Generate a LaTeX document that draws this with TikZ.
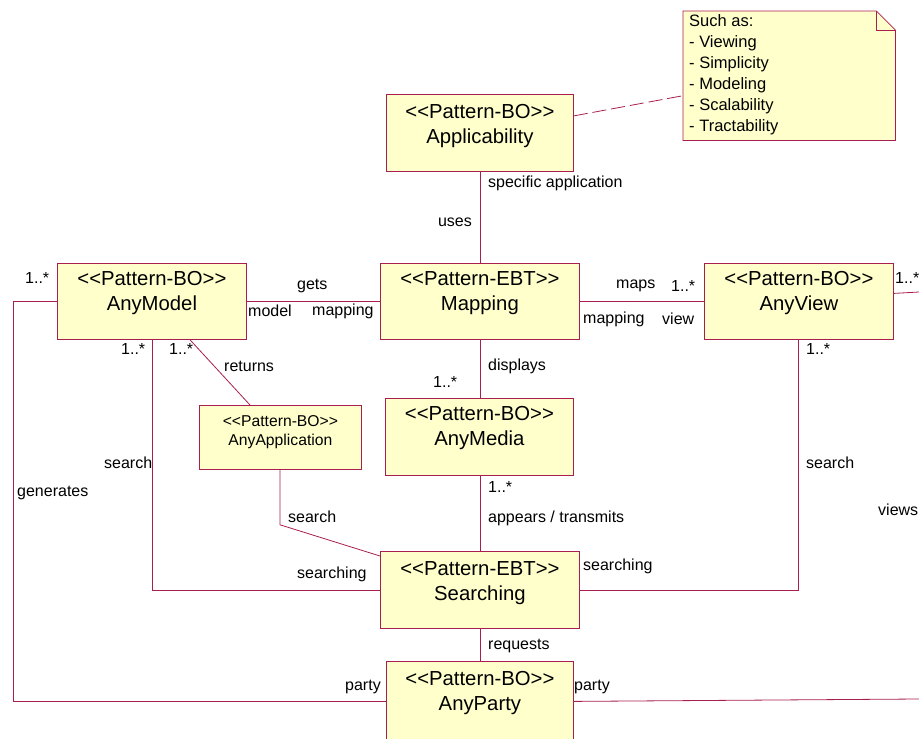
\documentclass[tikz,border=0pt]{standalone}
\usepackage{fontspec}
\setmainfont{Liberation Sans}
\definecolor{boxline}{RGB}{168,30,78}
\definecolor{boxfill}{RGB}{255,255,204}
\tikzset{
  umlbox/.style={draw=boxline, fill=boxfill, line width=0.8pt, inner sep=0pt, anchor=north west},
  boxtxt/.style={align=center, inner sep=0pt, font=\fontsize{20.3}{25}\selectfont},
  smalltxt/.style={align=center, inner sep=0pt, font=\fontsize{15.7}{19}\selectfont},
  lbl/.style={inner sep=0pt, anchor=west, font=\fontsize{16}{19}\selectfont},
  conn/.style={draw=boxline, line width=0.8pt},
  notelink/.style={draw=boxline, line width=0.8pt, dash pattern=on 14pt off 5pt}
}
\begin{document}
\begin{tikzpicture}[x=1pt,y=-1pt]
\useasboundingbox (0,0) rectangle (919,739);

% note
\node[minimum width=212pt, minimum height=129pt, inner sep=0pt, anchor=north west] (note) at (683,11) {};
\draw[draw=boxline, fill=boxfill, line width=0.8pt] (note.north west) -- ([xshift=-19pt]note.north east) -- ([yshift=-19pt]note.north east) -- (note.south east) -- (note.south west) -- cycle;
\draw[draw=boxline, line width=0.8pt] ([xshift=-19pt]note.north east) -- ([xshift=-19pt,yshift=-19pt]note.north east) -- ([yshift=-19pt]note.north east);
\node[anchor=north west, inner sep=0pt, align=left, font=\fontsize{16.5}{21}\selectfont] (notetxt) at ([xshift=6pt,yshift=-3pt]note.north west)
  {Such as:\\- Viewing\\- Simplicity\\- Modeling\\- Scalability\\- Tractability};

% boxes
\node[umlbox, minimum width=187pt, minimum height=77pt] (appl) at (386,94) {};
\node[umlbox, minimum width=199pt, minimum height=76pt] (mapping) at (380,263) {};
\node[umlbox, minimum width=189pt, minimum height=76pt] (model) at (57,263) {};
\node[umlbox, minimum width=189pt, minimum height=76pt] (view) at (704,263) {};
\node[umlbox, minimum width=188pt, minimum height=77pt] (media) at (385,398) {};
\node[umlbox, minimum width=162pt, minimum height=64pt] (app) at (199,405) {};
\node[umlbox, minimum width=199pt, minimum height=77pt] (search) at (380,551) {};
\node[umlbox, minimum width=187pt, minimum height=80pt] (party) at (386,661) {};

\node[boxtxt] (applT) at ([yshift=-32pt]appl.north) {<{}<Pattern-BO>{}>\\Applicability};
\node[boxtxt] (mappingT) at ([yshift=-30pt]mapping.north) {<{}<Pattern-EBT>{}>\\Mapping};
\node[boxtxt] (modelT) at ([yshift=-30pt]model.north) {<{}<Pattern-BO>{}>\\AnyModel};
\node[boxtxt] (viewT) at ([yshift=-30pt]view.north) {<{}<Pattern-BO>{}>\\AnyView};
\node[boxtxt] (mediaT) at ([yshift=-30pt]media.north) {<{}<Pattern-BO>{}>\\AnyMedia};
\node[smalltxt] (appT) at ([yshift=-27pt]app.north) {<{}<Pattern-BO>{}>\\AnyApplication};
\node[boxtxt] (searchT) at ([yshift=-32pt]search.north) {<{}<Pattern-EBT>{}>\\Searching};
\node[boxtxt] (partyT) at ([yshift=-32pt]party.north) {<{}<Pattern-BO>{}>\\AnyParty};

% free ends
\coordinate (viewR) at (919,292);
\coordinate (partyR) at (919,699);

% connectors
\draw[notelink] ([yshift=17pt]appl.east) -- ([yshift=-20pt]note.west);
\draw[conn] (appl.south) -- (mapping.north);
\draw[conn] (model.east) -- (mapping.west);
\draw[conn] (mapping.east) -- (view.west);
\draw[conn] (mapping.south) -- (mapping.south |- media.north);
\draw[conn] (mapping.south |- media.south) -- (search.north);
\draw[conn] (search.south) -- (party.north);
\draw[conn] (model.west) -- ++(-44,0) |- (party.west);
\draw[conn] ([xshift=95pt]model.south west) |- (search.west);
\draw[conn] ([xshift=94pt]view.south west) |- (search.east);
\draw[conn] ([xshift=133pt]model.south west) -- ([xshift=51pt]app.north west);
\draw[conn] ([xshift=81pt]app.south west) -- ++(0,55) -- ([yshift=-5pt]search.north west);
\draw[conn] ([yshift=8pt]view.east) -- (viewR);
\draw[conn] (party.east) -- (partyR);

% labels
\node[lbl] (l1) at (488,183) {specific application};
\node[lbl, anchor=east] (l2) at (472,222) {uses};
\node[lbl] (l3) at (297,286) {gets};
\node[lbl] (l4) at (248,311) {model};
\node[lbl] (l5) at (312,311) {mapping};
\node[lbl] (l6) at (25,278) {1..*};
\node[lbl] (l7) at (121,349) {1..*};
\node[lbl] (l8) at (169,349) {1..*};
\node[lbl] (l9) at (224,366) {returns};
\node[lbl] (l10) at (616,286) {maps};
\node[lbl] (l11) at (671,286) {1..*};
\node[lbl] (l12) at (583,319) {mapping};
\node[lbl] (l13) at (662,319) {view};
\node[lbl] (l14) at (895,278) {1..*};
\node[lbl] (l15) at (806,349) {1..*};
\node[lbl] (l16) at (488,366) {displays};
\node[lbl] (l17) at (433,382) {1..*};
\node[lbl] (l18) at (104,463) {search};
\node[lbl] (l19) at (17,493) {generates};
\node[lbl] (l20) at (288,517) {search};
\node[lbl] (l21) at (488,487) {1..*};
\node[lbl] (l22) at (488,518) {appears / transmits};
\node[lbl] (l23) at (297,574) {searching};
\node[lbl] (l24) at (806,463) {search};
\node[lbl] (l25) at (878,510) {views};
\node[lbl] (l26) at (583,566) {searching};
\node[lbl] (l27) at (488,646) {requests};
\node[lbl] (l28) at (345,687) {party};
\node[lbl] (l29) at (574,687) {party};
\end{tikzpicture}
\end{document}
